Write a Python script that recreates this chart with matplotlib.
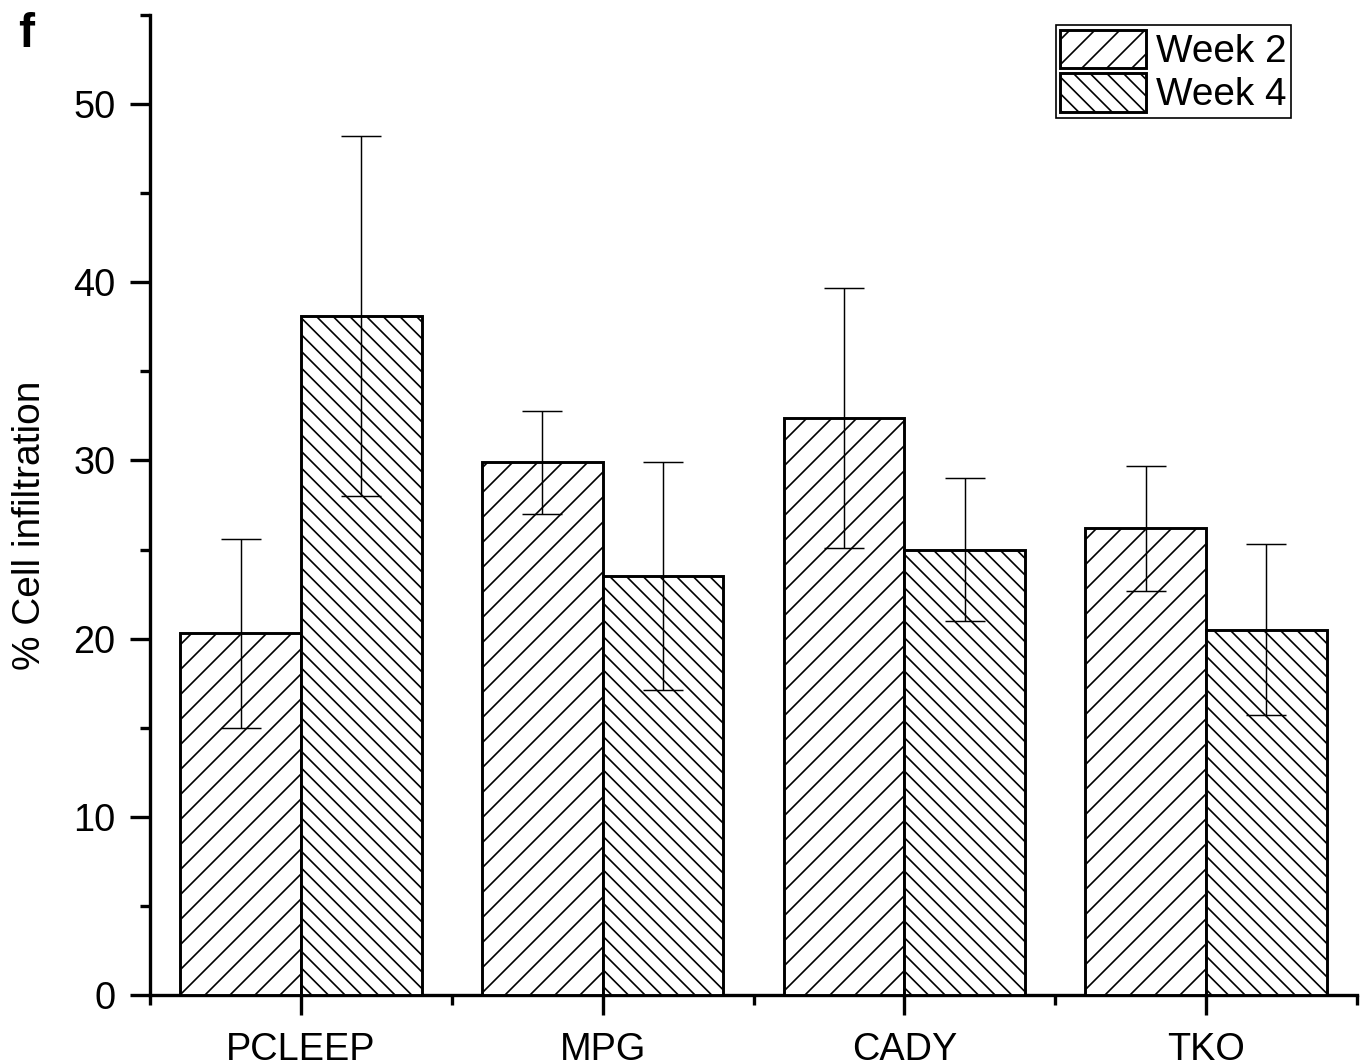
import matplotlib
matplotlib.use("Agg")
import matplotlib.pyplot as plt
import numpy as np
from matplotlib.ticker import MultipleLocator, FixedLocator

plt.rcParams["font.family"] = ["Liberation Sans", "DejaVu Sans"]
plt.rcParams["hatch.linewidth"] = 0.8
plt.rcParams["hatch.color"] = "black"

groups = ["PCLEEP", "MPG", "CADY", "TKO"]
week2 = [20.3, 29.9, 32.4, 26.2]
week2_err = [5.3, 2.9, 7.3, 3.5]
week4 = [38.1, 23.5, 25.0, 20.5]
week4_err = [10.1, 6.4, 4.0, 4.8]

BAR_W = 0.4
x = np.arange(1, len(groups) + 1)

fig = plt.figure(figsize=(1366 / 150, 1063 / 150), dpi=150)
ax = fig.add_axes([150 / 1366, 68 / 1063, 1207 / 1366, 980 / 1063])

err_kw = dict(elinewidth=0.7, capsize=9.5, capthick=0.7, ecolor="black", zorder=4)
ax.bar(x - BAR_W / 2, week2, BAR_W, yerr=week2_err, facecolor="white",
       edgecolor="black", linewidth=1.4, hatch="//", label="Week 2",
       error_kw=err_kw, zorder=3)
ax.bar(x + BAR_W / 2, week4, BAR_W, yerr=week4_err, facecolor="white",
       edgecolor="black", linewidth=1.4, hatch="\\\\\\", label="Week 4",
       error_kw=err_kw, zorder=3)

ax.set_xlim(0.5, 4.5)
ax.set_ylim(0, 55)
ax.set_xticks(x)
ax.set_xticklabels(groups)
ax.xaxis.set_minor_locator(FixedLocator(np.arange(0.5, 4.6, 1.0)))
ax.yaxis.set_major_locator(FixedLocator([0, 10, 20, 30, 40, 50]))
ax.yaxis.set_minor_locator(MultipleLocator(5))

for side in ("top", "right"):
    ax.spines[side].set_visible(False)
for side in ("left", "bottom"):
    ax.spines[side].set_linewidth(1.6)

ax.tick_params(which="major", direction="out", length=9.6, width=1.6,
               labelsize=18.2, pad=7)
ax.tick_params(which="minor", direction="out", length=4.8, width=1.6)
ax.tick_params(axis="x", which="major", pad=8)

ax.set_ylabel("% Cell infiltration", fontsize=18.7)
ax.yaxis.set_label_coords(-0.0845, 0.4796)

leg = ax.legend(loc="upper right", bbox_to_anchor=(0.9453, 0.9898),
                borderaxespad=0, fancybox=False, fontsize=18.6,
                handlelength=2.2, handleheight=1.15, handletextpad=0.26,
                labelspacing=0.08, borderpad=0.12, framealpha=1)
leg.get_frame().set_edgecolor("black")
leg.get_frame().set_linewidth(0.8)

fig.text(18 / 1366, 1 - 47 / 1063, "f", fontsize=23, fontweight="bold",
         ha="left", va="baseline")

fig.savefig("out.png", dpi=150, facecolor="white")
